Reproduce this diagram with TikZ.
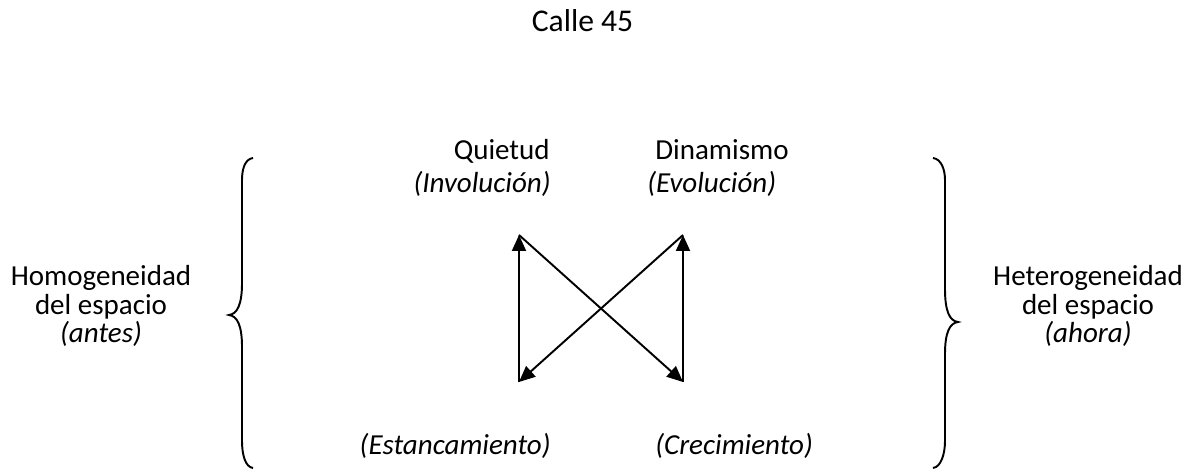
\documentclass[tikz,border=0pt]{standalone}
\usepackage{fontspec}
\setmainfont{Carlito}
\usepackage{tikz}
\usetikzlibrary{arrows.meta}

\tikzset{
  texto/.style={inner sep=0pt, font=\fontsize{16.5}{16.2}\selectfont},
  flecha/.style={line width=1.1pt, -{Triangle[length=0.32cm, width=0.28cm]}},
  llave/.style={line width=1.1pt}
}

\begin{document}
\begin{tikzpicture}
                \useasboundingbox (0,0) rectangle (24.04,9.38);
                % Titulo
                \node[texto, anchor=base, font=\fontsize{18}{18}\selectfont] (calle) at (11.65,8.74) {Calle 45};
                % Arriba
                \node[texto, anchor=base east] (quietud) at (11.0,6.18) {Quietud};
                \node[texto, anchor=base east] (involucion) at (11.02,5.52) {\itshape (Involución)};
                \node[texto, anchor=base west] (dinamismo) at (13.10,6.18) {Dinamismo};
                \node[texto, anchor=base west] (evolucion) at (12.94,5.52) {\itshape (Evolución)};
                % Abajo
                \node[texto, anchor=base east] (estancamiento) at (11.02,0.28) {\itshape (Estancamiento)};
                \node[texto, anchor=base west] (crecimiento) at (13.10,0.28) {\itshape (Crecimiento)};
                % Lados
                \node[texto, align=center] (antes) at (2.02,3.26) {Homogeneidad\\del espacio\\\itshape (antes)};
                \node[texto, align=center] (ahora) at (21.76,3.26) {Heterogeneidad\\del espacio\\\itshape (ahora)};
                % Flechas
                \coordinate (ul) at (10.38,4.68);
                \coordinate (ll) at (10.38,1.74);
                \coordinate (ur) at (13.66,4.68);
                \coordinate (lr) at (13.66,1.74);
                \draw[flecha] (ll) -- (ul);
                \draw[flecha] (ul) -- (lr);
                \draw[flecha] (lr) -- (ur);
                \draw[flecha] (ur) -- (ll);
                % Llaves
                \draw[llave] (5.06,6.22) .. controls (4.90,6.20) and (4.84,6.00) .. (4.84,5.78)
                    -- (4.84,3.72) .. controls (4.84,3.30) and (4.75,3.10) .. (4.58,3.08)
                    .. controls (4.75,3.06) and (4.84,2.86) .. (4.84,2.44)
                    -- (4.84,0.56) .. controls (4.84,0.30) and (4.90,0.04) .. (5.06,0.02);
                \draw[llave] (18.66,6.22) .. controls (18.82,6.20) and (18.90,6.00) .. (18.90,5.78)
                    -- (18.90,3.60) .. controls (18.90,3.16) and (18.99,2.96) .. (19.16,2.94)
                    .. controls (18.99,2.92) and (18.90,2.72) .. (18.90,2.30)
                    -- (18.90,0.56) .. controls (18.90,0.30) and (18.82,0.04) .. (18.66,0.02);
            \end{tikzpicture}
\end{document}
